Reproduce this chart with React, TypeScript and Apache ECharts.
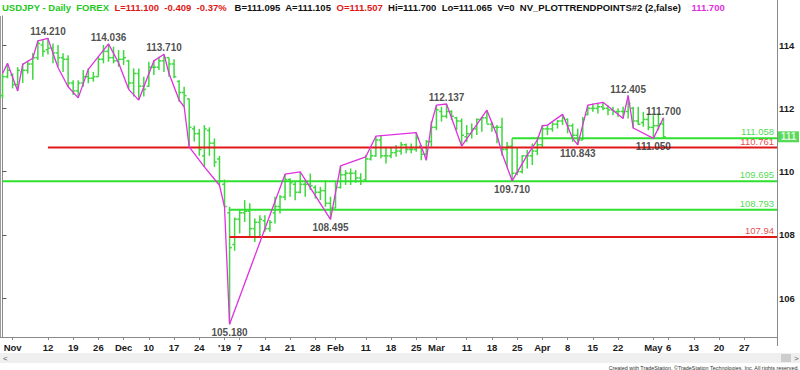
import React, { useEffect, useRef } from 'react';
import * as echarts from 'echarts';

// ---------- DATA ----------
const startDate = '2018-10-30';
const endDate = '2019-06-04';
const holidays = ['2018-12-25', '2019-01-01'];

// daily bars [open, high, low, close], one per trading day from startDate
const ohlc: number[][] = [
  [112.40, 113.10, 112.31, 113.00], [113.00, 113.42, 112.95, 113.20], [113.05, 113.10, 112.63, 112.75], [112.75, 113.30, 112.55, 113.20],
  [113.15, 113.42, 112.80, 113.20], [113.20, 113.50, 113.10, 113.40], [113.40, 113.75, 112.90, 113.60], [113.60, 114.15, 113.53, 114.05], [114.00, 114.18, 113.63, 113.80],
  [113.85, 114.21, 113.70, 113.90], [113.90, 114.05, 113.42, 113.75], [113.75, 114.00, 113.31, 113.60], [113.60, 113.74, 113.15, 113.55], [113.55, 113.68, 112.68, 112.80],
  [112.80, 112.89, 112.42, 112.55], [112.55, 112.89, 112.33, 112.80], [112.80, 113.21, 112.68, 113.00], [113.00, 113.26, 112.79, 112.95], [112.95, 113.15, 112.84, 113.00],
  [113.00, 113.63, 113.00, 113.55], [113.55, 114.00, 113.42, 113.80], [113.80, 114.036, 113.47, 113.60], [113.60, 113.95, 113.42, 113.50], [113.50, 113.84, 113.31, 113.55],
  [113.55, 113.84, 113.37, 113.60], [113.50, 113.53, 112.60, 112.80], [112.80, 113.26, 112.37, 113.10], [113.10, 113.26, 112.26, 112.70], [112.70, 113.00, 112.37, 112.60],
  [112.70, 113.47, 112.68, 113.30], [113.30, 113.53, 113.05, 113.30], [113.30, 113.63, 113.21, 113.50], [113.50, 113.71, 113.15, 113.60], [113.60, 113.60, 113.00, 113.40],
  [113.40, 113.55, 112.95, 113.00], [112.85, 112.89, 112.21, 112.50], [112.50, 112.68, 112.05, 112.40], [112.30, 112.30, 110.78, 111.40], [111.35, 111.45, 110.95, 111.20],
  [111.20, 111.35, 110.50, 110.70], [110.50, 111.47, 110.15, 111.35], [111.30, 111.40, 110.50, 110.90], [110.90, 111.05, 110.15, 110.30], [110.40, 110.50, 109.57, 109.70],
  [109.60, 109.75, 108.89, 108.90], [108.70, 108.89, 105.18, 107.60], [107.70, 108.55, 107.50, 108.50],
  [108.50, 108.78, 108.05, 108.70], [108.70, 109.10, 108.41, 108.75], [108.75, 109.00, 107.94, 108.20], [108.20, 108.52, 107.78, 108.40], [108.40, 108.62, 107.94, 108.50],
  [108.45, 108.62, 108.10, 108.20], [108.20, 108.47, 108.10, 108.40], [108.70, 109.21, 108.36, 108.90], [108.90, 109.26, 108.68, 109.20], [109.20, 109.92, 109.10, 109.75],
  [109.75, 109.79, 109.21, 109.65], [109.60, 109.68, 109.10, 109.35], [109.35, 109.99, 109.31, 109.60], [109.60, 109.73, 109.21, 109.60], [109.60, 109.94, 109.42, 109.55],
  [109.50, 109.57, 109.15, 109.35], [109.35, 109.52, 109.10, 109.40], [109.40, 109.73, 108.89, 109.00], [109.00, 109.21, 108.495, 108.85], [108.85, 109.70, 108.85, 109.50],
  [109.50, 110.18, 109.47, 109.90], [109.90, 110.05, 109.58, 109.95], [109.95, 110.10, 109.58, 109.95], [109.95, 110.05, 109.65, 109.80], [109.80, 109.95, 109.58, 109.70],
  [109.75, 110.53, 109.68, 110.40], [110.40, 110.70, 110.35, 110.50], [110.50, 111.12, 110.47, 111.00], [111.00, 111.16, 110.42, 110.50], [110.50, 110.79, 110.26, 110.50],
  [110.50, 110.79, 110.42, 110.60], [110.60, 110.84, 110.47, 110.65], [110.65, 110.94, 110.53, 110.85], [110.85, 110.89, 110.58, 110.70], [110.70, 110.89, 110.58, 110.70],
  [110.70, 111.23, 110.63, 111.05], [110.80, 110.84, 110.36, 110.55], [110.55, 111.00, 110.36, 110.95], [110.95, 111.60, 110.79, 111.40], [111.40, 112.10, 111.31, 111.95],
  [111.90, 112.05, 111.58, 111.75], [111.75, 112.137, 111.68, 111.90], [111.90, 111.94, 111.63, 111.75], [111.70, 111.73, 111.31, 111.60], [111.60, 111.68, 110.81, 111.15],
  [111.10, 111.47, 110.94, 111.20], [111.20, 111.52, 111.05, 111.35], [111.35, 111.68, 111.16, 111.65], [111.65, 111.73, 111.26, 111.70], [111.70, 111.94, 111.52, 111.50],
  [111.50, 111.58, 111.26, 111.40], [111.40, 111.47, 110.90, 111.40], [111.40, 111.70, 110.50, 110.70], [110.70, 110.94, 110.15, 110.80], [110.80, 111.05, 109.71, 109.95],
  [109.95, 110.78, 109.89, 110.00], [110.00, 110.52, 109.94, 110.50], [110.50, 110.68, 110.10, 110.50], [110.50, 110.89, 110.21, 110.65], [110.65, 111.10, 110.52, 110.85],
  [110.85, 111.47, 110.78, 111.35], [111.35, 111.47, 111.15, 111.35], [111.35, 111.57, 111.26, 111.50], [111.50, 111.63, 111.36, 111.60], [111.60, 111.81, 111.47, 111.70],
  [111.65, 111.68, 111.21, 111.45], [111.45, 111.52, 110.94, 111.15], [111.15, 111.36, 110.843, 111.00], [111.00, 111.73, 111.00, 111.65], [111.80, 112.10, 111.78, 112.00],
  [112.00, 112.15, 111.89, 112.00], [112.00, 112.15, 111.84, 112.05], [112.05, 112.19, 111.94, 112.00], [112.00, 112.10, 111.78, 111.95], [111.95, 112.05, 111.78, 111.90],
  [111.90, 112.00, 111.73, 111.90], [111.90, 112.05, 111.68, 111.90], [111.90, 112.405, 111.68, 112.15], [112.00, 112.05, 111.36, 111.60], [111.60, 112.05, 111.47, 111.50],
  [111.55, 111.89, 111.42, 111.65], [111.65, 111.84, 111.31, 111.40], [111.40, 111.78, 111.05, 111.45], [111.45, 111.84, 111.31, 111.50], [111.507, 111.70, 111.065, 111.10],
];

// NV_PLOTTRENDPOINTS line (bar number, price)
const trendBars = [0, 1, 3, 4, 6, 7, 9, 10, 11, 13, 15, 17, 21, 23, 25, 27, 30, 32, 33, 35, 36, 37, 40, 43, 44, 45, 56, 59, 65, 67, 72, 74, 82, 84, 85, 86, 88, 91, 96, 98, 99, 101, 104, 106, 107, 108, 111, 113, 114, 116, 119, 121, 123, 124, 125, 129, 131];
const trendValues = [113.10, 113.42, 112.55, 113.39, 113.58, 114.13, 114.21, 113.74, 113.29, 112.68, 112.33, 113.23, 114.036, 113.44, 112.60, 112.26, 113.50, 113.71, 113.10, 112.26, 112.05, 110.78, 110.15, 109.57, 108.89, 105.18, 109.92, 109.99, 108.495, 110.18, 110.47, 111.12, 111.23, 110.36, 111.52, 112.10, 112.137, 110.81, 111.94, 111.15, 110.58, 109.71, 110.52, 111.00, 111.45, 111.47, 111.81, 111.05, 110.843, 112.10, 112.19, 111.94, 111.68, 112.405, 111.38, 111.05, 111.70];

// labelled swing points
const pivotBars = [9, 21, 32, 45, 65, 88, 101, 114, 124, 131, 129];
const pivotValues = [114.21, 114.036, 113.71, 105.18, 108.495, 112.137, 109.71, 110.843, 112.405, 111.7, 111.05];
const pivotIsHigh = [true, true, true, false, false, true, false, false, true, true, false];

// horizontal levels
const levelValues = [111.058, 110.761, 109.695, 108.793, 107.94];
const levelStartBars = [101, 9, 0, 45, 45];
const levelIsRed = [false, true, false, false, true];

// header texts
const headerSymbol = 'USDJPY - Daily  FOREX';
const headerLast = ['L=111.100', '-0.409', '-0.37%'];
const headerBidAsk = ['B=111.095', 'A=111.105'];
const headerOpen = 'O=111.507';
const headerRest = ['Hi=111.700', 'Lo=111.065', 'V=0', 'NV_PLOTTRENDPOINTS#2 (2,false)'];
const headerIndicator = '111.700';

// x-axis tick labels
const xTickDates = ['2018-11-01', '2018-11-12', '2018-11-19', '2018-11-26', '2018-12-03', '2018-12-10', '2018-12-17', '2018-12-24', '2019-01-02', '2019-01-07', '2019-01-14', '2019-01-21', '2019-01-28', '2019-02-01', '2019-02-11', '2019-02-18', '2019-02-25', '2019-03-01', '2019-03-11', '2019-03-18', '2019-03-25', '2019-04-01', '2019-04-08', '2019-04-15', '2019-04-22', '2019-05-01', '2019-05-06', '2019-05-13', '2019-05-20', '2019-05-27'];
const xTickLabels = ['Nov', '12', '19', '26', 'Dec', '10', '17', '24', "'19", '7', '14', '21', '28', 'Feb', '11', '18', '25', 'Mar', '11', '18', '25', 'Apr', '8', '15', '22', 'May', '6', '13', '20', '27'];
const yTicks = [106, 108, 110, 112, 114];
const yMin = 104.778;
const yMax = 114.916;

// ---------- STYLE ----------
const FONT = 'Liberation Sans, Arial, sans-serif';
const BAR_GREEN = '#3ed83e';
const LINE_GREEN = '#2fe02f';
const RED = '#e01818';
const MAGENTA = '#e030e0';
const TITLE_GREEN = '#22c822';

function tradingDays(): string[] {
  const out: string[] = [];
  const d = new Date(startDate + 'T00:00:00Z');
  const end = new Date(endDate + 'T00:00:00Z');
  while (d <= end) {
    const wd = d.getUTCDay();
    const s = d.toISOString().slice(0, 10);
    if (wd !== 0 && wd !== 6 && !holidays.includes(s)) out.push(s);
    d.setUTCDate(d.getUTCDate() + 1);
  }
  return out;
}

export default function App() {
  const ref = useRef<HTMLDivElement>(null);
  useEffect(() => {
    const chart = echarts.init(ref.current!, null, { renderer: 'svg' });
    const days = tradingDays();
    const N = days.length;
    const xMax = N - 0.5;
    const tickIdx = xTickDates.map((d) => days.indexOf(d));
    const labelMap: Record<number, string> = {};
    tickIdx.forEach((i, k) => (labelMap[i] = xTickLabels[k]));
    const lastClose = ohlc[ohlc.length - 1][3];

    const levelSeries = levelValues.map((v, k) => ({
      type: 'line',
      data: [[levelStartBars[k], v], [xMax, v]],
      showSymbol: false,
      symbol: 'none',
      silent: true,
      z: 3,
      lineStyle: { color: levelIsRed[k] ? RED : LINE_GREEN, width: 2 },
    }));

    const gap = '  ';
    const headerText =
      `{g|${headerSymbol}}${gap}{r|${headerLast.join(gap)}}${gap} {k|${headerBidAsk.join(gap)}}${gap}{r|${headerOpen}}${gap}` +
      `{k|${headerRest.join(gap)}}${gap}  {m|${headerIndicator}}`;

    const option: any = {
      animation: false,
      backgroundColor: '#ffffff',
      grid: { left: 0, right: 23, top: 16, bottom: 33 },
      xAxis: {
        type: 'value',
        min: -0.5,
        max: xMax,
        splitLine: { show: false },
        axisLine: { show: true, lineStyle: { color: '#8a8a8a', width: 1 } },
        axisTick: { show: true, customValues: tickIdx, length: 3, lineStyle: { color: '#8a8a8a' } },
        axisLabel: {
          customValues: tickIdx,
          formatter: (v: number) => labelMap[Math.round(v)] ?? '',
          fontFamily: FONT,
          fontSize: 9.5,
          fontWeight: 'bold',
          color: '#1a1a1a',
          margin: 5,
        },
      },
      yAxis: {
        type: 'value',
        position: 'right',
        min: yMin,
        max: yMax,
        scale: true,
        splitLine: { show: false },
        axisLine: { show: true, lineStyle: { color: '#8a8a8a', width: 1 } },
        axisTick: { show: true, customValues: yTicks, length: 4, lineStyle: { color: '#555' } },
        axisLabel: {
          customValues: yTicks,
          formatter: (v: number) => String(Math.round(v)),
          fontFamily: FONT,
          fontSize: 9.5,
          fontWeight: 'bold',
          color: '#1a1a1a',
          margin: 2,
        },
      },
      series: [
        {
          type: 'custom',
          z: 2,
          silent: true,
          data: ohlc.map((r, i) => [i, r[0], r[1], r[2], r[3]]),
          encode: { x: 0, y: [1, 2, 3, 4] },
          renderItem: (params: any, api: any) => {
            const i = api.value(0);
            const top = api.coord([i, api.value(2)]);
            const bot = api.coord([i, api.value(3)]);
            const op = api.coord([i, api.value(1)]);
            const cp = api.coord([i, api.value(4)]);
            const x = top[0];
            const style = { stroke: BAR_GREEN, lineWidth: 1.5 };
            return {
              type: 'group',
              children: [
                { type: 'line', shape: { x1: x, y1: top[1], x2: x, y2: bot[1] }, style },
                { type: 'line', shape: { x1: x - 2.3, y1: op[1], x2: x, y2: op[1] }, style },
                { type: 'line', shape: { x1: x, y1: cp[1], x2: x + 2.3, y2: cp[1] }, style },
              ],
            };
          },
        },
        ...levelSeries,
        {
          type: 'line',
          z: 4,
          silent: true,
          showSymbol: false,
          symbol: 'none',
          data: trendBars.map((b, k) => [b, trendValues[k]]),
          lineStyle: { color: MAGENTA, width: 1.3 },
        },
        {
          type: 'scatter',
          z: 6,
          silent: true,
          clip: false,
          symbolSize: 1,
          itemStyle: { color: 'rgba(0,0,0,0)' },
          data: pivotBars.map((b, k) => ({
            value: [b, pivotValues[k]],
            label: { position: pivotIsHigh[k] ? 'top' : 'bottom', distance: pivotIsHigh[k] ? 1 : 3 },
          })),
          label: {
            show: true,
            formatter: (p: any) => p.value[1].toFixed(3),
            fontFamily: FONT,
            fontSize: 10,
            fontWeight: 'bold',
            color: '#222',
          },
        },
        {
          type: 'scatter',
          z: 6,
          silent: true,
          clip: false,
          symbolSize: 1,
          itemStyle: { color: 'rgba(0,0,0,0)' },
          data: levelValues.map((v, k) => ({
            value: [xMax, v],
            label: { color: levelIsRed[k] ? RED : '#22d022' },
          })),
          label: {
            show: true,
            position: 'top',
            align: 'right',
            distance: 1,
            offset: [-3, 0],
            formatter: (p: any) => String(p.value[1]),
            fontFamily: FONT,
            fontSize: 9.5,
          },
        },
        {
          type: 'scatter',
          z: 7,
          silent: true,
          clip: false,
          symbol: 'rect',
          symbolSize: [21, 11],
          symbolOffset: [11.5, 0],
          itemStyle: { color: '#2fd02f' },
          data: [[xMax, lastClose]],
          label: {
            show: true,
            position: 'inside',
            formatter: String(Math.trunc(lastClose)),
            color: '#fff',
            fontFamily: FONT,
            fontSize: 10,
            fontWeight: 'bold',
          },
        },
      ],
      graphic: [
        {
          type: 'text',
          x: 2,
          y: 2,
          silent: true,
          style: {
            text: headerText,
            font: `bold 9.5px ${FONT}`,
            textVerticalAlign: 'top',
            rich: {
              g: { fill: TITLE_GREEN, font: `bold 9.5px ${FONT}` },
              r: { fill: RED, font: `bold 9.5px ${FONT}` },
              k: { fill: '#111', font: `bold 9.5px ${FONT}` },
              m: { fill: MAGENTA, font: `bold 9.5px ${FONT}` },
            },
          },
        },
        { type: 'line', silent: true, shape: { x1: 777.5, y1: 0, x2: 777.5, y2: 346 }, style: { stroke: '#8a8a8a', lineWidth: 1 } },
        { type: 'line', silent: true, shape: { x1: 0.5, y1: 16, x2: 0.5, y2: 337 }, style: { stroke: '#9a9a9a', lineWidth: 1 } },
        { type: 'rect', silent: true, shape: { x: 0, y: 353, width: 800, height: 10 }, style: { fill: '#efefef' } },
        { type: 'text', silent: true, x: 3, y: 358, style: { text: '<', fill: '#555', font: `8px ${FONT}`, textVerticalAlign: 'middle' } },
        { type: 'rect', silent: true, shape: { x: 781, y: 354, width: 10, height: 8 }, style: { fill: '#cdcdcd' } },
        { type: 'text', silent: true, x: 794, y: 358, style: { text: '>', fill: '#555', font: `8px ${FONT}`, textVerticalAlign: 'middle' } },
        {
          type: 'text',
          silent: true,
          x: 799,
          y: 368,
          style: {
            text: 'Created with TradeStation. ©TradeStation Technologies, Inc. All rights reserved.',
            fill: '#333',
            font: `5.4px ${FONT}`,
            textAlign: 'right',
            textVerticalAlign: 'middle',
          },
        },
      ],
    };
    chart.setOption(option);
    return () => chart.dispose();
  }, []);
  return <div ref={ref} style={{ position: 'fixed', left: 0, top: 0, width: 800, height: 370, background: '#fff' }} />;
}
